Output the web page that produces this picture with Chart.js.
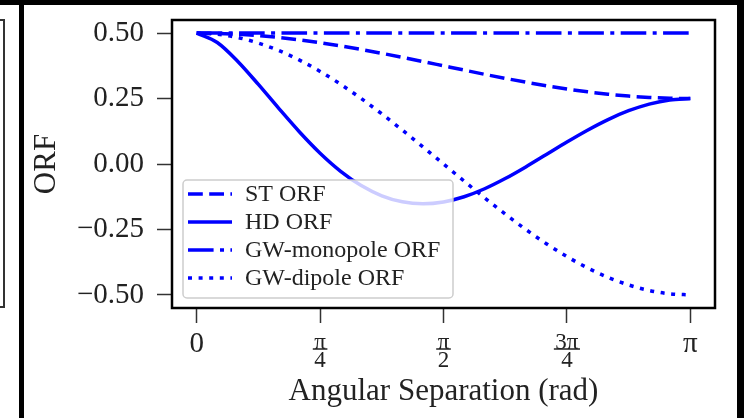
<!DOCTYPE html>
<html>
<head>
<meta charset="utf-8">
<script src="https://cdn.jsdelivr.net/npm/chart.js@4.4.0/dist/chart.umd.min.js"></script>
<style>
  html, body { margin: 0; padding: 0; background: #000; width: 744px; height: 418px; overflow: hidden; }
  #leftPanel { position: absolute; left: 0; top: 5px; width: 19px; height: 413px; background: #fff; overflow: hidden; }
  #leftBox { position: absolute; left: -12px; top: 14px; width: 13px; height: 285px; border: 2px solid #333; }
  #mainPanel { position: absolute; left: 24px; top: 5px; width: 713px; height: 413px; background: #fff; }
  #wrap { position: absolute; left: 0; top: 0; width: 744px; height: 418px; }
</style>
</head>
<body>
<div id="leftPanel"><div id="leftBox"></div></div>
<div id="mainPanel"></div>
<div id="wrap"><canvas id="myChart"></canvas></div>
<script>
// angular separation in rad (0 .. pi)
const angles = [0, 0.1309, 0.2618, 0.3927, 0.5236, 0.6545, 0.7854, 0.9163, 1.0472, 1.1781, 1.3090, 1.4399,
    1.5708, 1.7017, 1.8326, 1.9635, 2.0944, 2.2253, 2.3562, 2.4871, 2.6180, 2.7489, 2.8798, 3.0107, 3.1416];

const stOrf = [0.5, 0.4989, 0.4957, 0.4905, 0.4833, 0.4742, 0.4634, 0.4511, 0.4375, 0.4228, 0.4074, 0.3913,
    0.375, 0.3587, 0.3426, 0.3272, 0.3125, 0.2989, 0.2866, 0.2758, 0.2667, 0.2595, 0.2543, 0.2511, 0.25];
const hdOrf = [0.5, 0.4639, 0.3917, 0.3039, 0.2116, 0.1224, 0.0414, -0.0277, -0.0824, -0.1214, -0.1445, -0.1519,
    -0.1449, -0.1250, -0.0945, -0.0556, -0.0111, 0.0363, 0.0839, 0.1291, 0.1697, 0.2035, 0.2289, 0.2447, 0.25];
const monopoleOrf = [0.5, 0.5, 0.5, 0.5, 0.5, 0.5, 0.5, 0.5, 0.5, 0.5, 0.5, 0.5,
    0.5, 0.5, 0.5, 0.5, 0.5, 0.5, 0.5, 0.5, 0.5, 0.5, 0.5, 0.5, 0.5];
const dipoleOrf = [0.5, 0.4957, 0.4830, 0.4619, 0.4330, 0.3967, 0.3536, 0.3044, 0.25, 0.1913, 0.1294, 0.0653,
    0, -0.0653, -0.1294, -0.1913, -0.25, -0.3044, -0.3536, -0.3967, -0.4330, -0.4619, -0.4830, -0.4957, -0.5];

const seriesNames = ['ST ORF', 'HD ORF', 'GW-monopole ORF', 'GW-dipole ORF'];
const yTicks = [-0.5, -0.25, 0, 0.25, 0.5];
const xTicks = [0, 0.7854, 1.5708, 2.3562, 3.1416];
const xTickLabels = ['0', ['π', '4'], ['π', '2'], ['3π', '4'], 'π'];

const SERIF = '"Liberation Serif", "DejaVu Serif", serif';
const BLUE = '#0000ff';

function toPoints(ys) {
    return angles.map((a, i) => ({ x: a, y: ys[i] }));
}

function makeSet(label, ys, dash) {
    return {
        label: label,
        data: toPoints(ys),
        borderColor: BLUE,
        backgroundColor: BLUE,
        borderWidth: 3.5,
        borderDash: dash,
        borderCapStyle: 'butt',
        pointRadius: 0,
        fill: false,
        cubicInterpolationMode: 'monotone'
    };
}

// legend inside the axes + box frame + fraction bars
const decorations = {
    id: 'decorations',
    afterDatasetsDraw(chart) {
        const ctx = chart.ctx;
        const area = chart.chartArea;
        const left = area.left + 11, w = 270, h = 118;
        const top = area.bottom - 10 - h;
        ctx.save();
        ctx.beginPath();
        ctx.roundRect(left, top, w, h, 4);
        ctx.fillStyle = 'rgba(255,255,255,0.8)';
        ctx.fill();
        ctx.lineWidth = 1.5;
        ctx.strokeStyle = 'rgba(200,200,200,0.9)';
        ctx.stroke();
        chart.data.datasets.forEach((ds, i) => {
            const y = top + 14 + i * 28;
            ctx.setLineDash(ds.borderDash || []);
            ctx.lineCap = 'butt';
            ctx.lineWidth = ds.borderWidth;
            ctx.strokeStyle = ds.borderColor;
            ctx.beginPath();
            ctx.moveTo(left + 5, y);
            ctx.lineTo(left + 49, y);
            ctx.stroke();
            ctx.setLineDash([]);
            ctx.fillStyle = '#222';
            ctx.font = '24px ' + SERIF;
            ctx.textBaseline = 'middle';
            ctx.textAlign = 'left';
            ctx.fillText(ds.label, left + 62, y + 1);
        });
        ctx.lineWidth = 2.5;
        ctx.strokeStyle = '#000';
        ctx.strokeRect(area.left, area.top, area.right - area.left, area.bottom - area.top);
        ctx.restore();
    },
    afterDraw(chart) {
        const ctx = chart.ctx;
        const xs = chart.scales.x;
        ctx.save();
        ctx.font = '23px ' + SERIF;
        ctx.strokeStyle = '#222';
        ctx.lineWidth = 1.5;
        xTicks.forEach((v, i) => {
            const lab = xTickLabels[i];
            if (!Array.isArray(lab)) return;
            const px = xs.getPixelForValue(v);
            const half = ctx.measureText(lab[0]).width / 2 + 1.5;
            const y = chart.chartArea.bottom + 41;
            ctx.beginPath();
            ctx.moveTo(px - half, y);
            ctx.lineTo(px + half, y);
            ctx.stroke();
        });
        ctx.restore();
    }
};

const ctx = document.getElementById('myChart').getContext('2d');
const myChart = new Chart(ctx, {
    type: 'line',
    data: {
        datasets: [
            makeSet(seriesNames[0], stOrf, [14.8, 6.4]),
            makeSet(seriesNames[1], hdOrf, []),
            makeSet(seriesNames[2], monopoleOrf, [25.6, 6.4, 4, 6.4]),
            makeSet(seriesNames[3], dipoleOrf, [4, 6.6])
        ]
    },
    options: {
        responsive: true,
        maintainAspectRatio: false,
        animation: false,
        layout: { padding: { left: 28, right: 29, top: 20, bottom: 8 } },
        plugins: { legend: { display: false }, tooltip: { enabled: false } },
        scales: {
            x: {
                type: 'linear',
                min: -0.05 * Math.PI,
                max: 1.05 * Math.PI,
                afterBuildTicks: (s) => { s.ticks = xTicks.map(v => ({ value: v })); },
                afterFit: (s) => { s.height = 102; },
                grid: { drawOnChartArea: false, tickLength: 15, tickColor: '#333', tickWidth: 1.5 },
                border: { display: false },
                ticks: {
                    padding: 11,
                    crossAlign: 'near',
                    maxRotation: 0,
                    color: '#222',
                    font: (c) => (c.tick && Array.isArray(c.tick.label))
                        ? { family: SERIF, size: 23, lineHeight: '18px' }
                        : { family: SERIF, size: 29, lineHeight: '20px' },
                    callback: (v, i) => xTickLabels[i]
                },
                title: {
                    display: true,
                    text: 'Angular Separation (rad)',
                    color: '#222',
                    font: { family: SERIF, size: 31 },
                    padding: 0
                }
            },
            y: {
                min: -0.55,
                max: 0.55,
                afterBuildTicks: (s) => { s.ticks = yTicks.map(v => ({ value: v })); },
                afterFit: (s) => {
                    s.width = 144;
                    s.paddingTop = 0;
                    s.paddingBottom = 0;
                },
                grid: { drawOnChartArea: false, tickLength: 15, tickColor: '#333', tickWidth: 1.5 },
                border: { display: false },
                ticks: {
                    padding: 13,
                    color: '#222',
                    font: { family: SERIF, size: 29 },
                    callback: (v) => v.toFixed(2).replace('-', '−')
                },
                title: {
                    display: true,
                    text: 'ORF',
                    color: '#222',
                    font: { family: SERIF, size: 31 },
                    padding: 0
                }
            }
        }
    },
    plugins: [decorations]
});
</script>
</body>
</html>
